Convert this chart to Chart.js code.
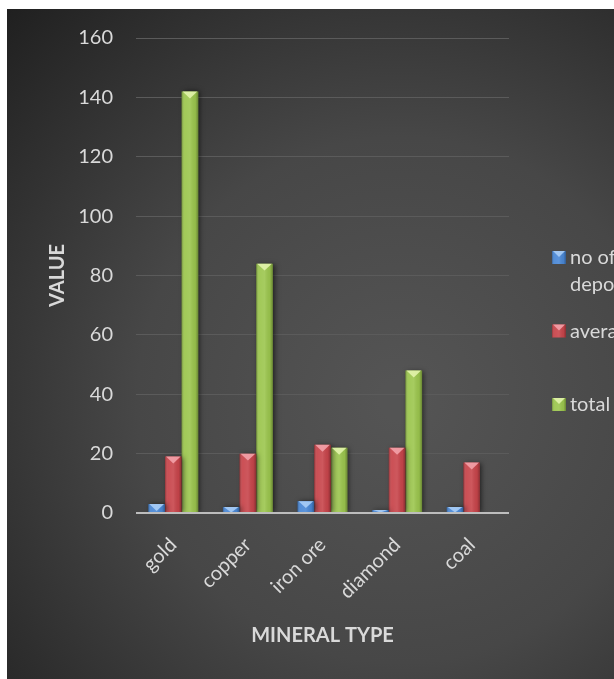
<!DOCTYPE html>
<html><head><meta charset="utf-8">
<script src="https://cdn.jsdelivr.net/npm/chart.js@4"></script>
<style>html,body{margin:0;padding:0;background:#fff;overflow:hidden}</style>
</head><body><canvas id="c" width="614" height="679" style="display:block;width:614px;height:679px"></canvas>
<script>
const categories = ["gold", "copper", "iron ore", "diamond", "coal"];
const seriesNames = ["no of deposits", "average size", "total value"];
const deposits = [3, 2, 4, 1, 2];
const averages = [19, 20, 23, 22, 17];
const totals = [142, 84, 22, 48, 0];
const yTickValues = [0, 20, 40, 60, 80, 100, 120, 140, 160];
const seriesColors = ["#4a88d6", "#c8454b", "#9cc64e"];
const seriesLight = ["#a8cdf6", "#f3a2aa", "#e2f3ac"];

const FONT = "Lato, 'Open Sans', sans-serif";
const TXT = "#d9d9d9";

const bgPlugin = {
  id: "bg",
  beforeDraw(chart) {
    const ctx = chart.ctx;
    ctx.save();
    ctx.fillStyle = "#ffffff";
    ctx.fillRect(0, 0, chart.width, chart.height);
    const g = ctx.createRadialGradient(400, 400, 20, 400, 400, 560);
    g.addColorStop(0, "#545454");
    g.addColorStop(0.45, "#474747");
    g.addColorStop(1, "#1f1f1f");
    ctx.fillStyle = g;
    ctx.fillRect(7, 9, chart.width - 7, chart.height - 9);
    ctx.restore();
  }
};

function bevel(ctx, left, top, w, h, light) {
  const lg = ctx.createLinearGradient(left, 0, left + w, 0);
  lg.addColorStop(0, "rgba(0,0,0,0.28)");
  lg.addColorStop(0.18, "rgba(255,255,255,0.06)");
  lg.addColorStop(0.5, "rgba(255,255,255,0.10)");
  lg.addColorStop(0.82, "rgba(0,0,0,0.05)");
  lg.addColorStop(1, "rgba(0,0,0,0.32)");
  ctx.fillStyle = lg;
  ctx.fillRect(left, top, w, h);
  const th = Math.min(w * 0.42, h);
  ctx.beginPath();
  ctx.moveTo(left + 1, top);
  ctx.lineTo(left + w - 1, top);
  ctx.lineTo(left + w / 2, top + th);
  ctx.closePath();
  ctx.fillStyle = light;
  ctx.globalAlpha = 0.9;
  ctx.fill();
  ctx.globalAlpha = 1;
}

const barFx = {
  id: "barfx",
  beforeDatasetsDraw(chart) {
    const ctx = chart.ctx;
    ctx.save();
    ctx.shadowColor = "rgba(0,0,0,0.55)";
    ctx.shadowBlur = 5;
    ctx.shadowOffsetX = 2;
    ctx.shadowOffsetY = 0;
  },
  afterDatasetsDraw(chart) {
    const ctx = chart.ctx;
    ctx.restore();
    ctx.save();
    chart.data.datasets.forEach((ds, di) => {
      const meta = chart.getDatasetMeta(di);
      meta.data.forEach(el => {
        const p = el.getProps(["x", "y", "base", "width"], true);
        const top = Math.min(p.y, p.base);
        const h = Math.abs(p.base - p.y);
        if (h < 0.5) return;
        bevel(ctx, p.x - p.width / 2, top, p.width, h, seriesLight[di]);
      });
    });
    const y0 = chart.scales.y.getPixelForValue(0);
    ctx.strokeStyle = "#bdbdbd";
    ctx.lineWidth = 2;
    ctx.beginPath();
    ctx.moveTo(chart.chartArea.left, y0);
    ctx.lineTo(chart.chartArea.right, y0);
    ctx.stroke();
    ctx.restore();
  }
};

const legendFx = {
  id: "legendfx",
  afterDraw(chart) {
    const ctx = chart.ctx;
    ctx.save();
    ctx.font = "20px " + FONT;
    ctx.textBaseline = "middle";
    ctx.fillStyle = TXT;
    const x0 = chart.chartArea.right + 43;
    const tx = x0 + 18;
    const maxW = 112;
    chart.data.datasets.forEach((ds, i) => {
      const cy = 258 + i * 73.5;
      const words = ds.label.split(" ");
      const lines = [];
      let cur = "";
      words.forEach(w => {
        const t = cur ? cur + " " + w : w;
        if (ctx.measureText(t).width > maxW && cur) { lines.push(cur); cur = w; }
        else cur = t;
      });
      lines.push(cur);
      ctx.fillStyle = seriesColors[i];
      ctx.fillRect(x0, cy - 7, 14, 13);
      bevel(ctx, x0, cy - 7, 14, 13, seriesLight[i]);
      ctx.fillStyle = TXT;
      lines.forEach((ln, k) => ctx.fillText(ln, tx, cy + k * 27));
    });
    ctx.restore();
  }
};

new Chart(document.getElementById("c"), {
  type: "bar",
  data: {
    labels: categories,
    datasets: [
      { label: seriesNames[0], data: deposits, backgroundColor: seriesColors[0] },
      { label: seriesNames[1], data: averages, backgroundColor: seriesColors[1] },
      { label: seriesNames[2], data: totals, backgroundColor: seriesColors[2] }
    ]
  },
  options: {
    responsive: false,
    animation: false,
    devicePixelRatio: 1,
    layout: { padding: { left: 7, top: 38, right: 105, bottom: 0 } },
    datasets: { bar: { categoryPercentage: 0.67, barPercentage: 1.0, borderWidth: 0 } },
    plugins: { legend: { display: false }, tooltip: { enabled: false } },
    scales: {
      x: {
        grid: { display: false, drawTicks: false },
        border: { display: false },
        ticks: {
          color: TXT, font: { family: FONT, size: 20 },
          minRotation: 45, maxRotation: 45, autoSkip: false, padding: 20
        },
        title: {
          display: true, text: "MINERAL TYPE", color: TXT,
          font: { family: FONT, size: 20, weight: "bold" },
          padding: { top: 0, bottom: 31 }
        },
        afterFit(s) { s.height = 166; }
      },
      y: {
        min: 0, max: 160,
        afterBuildTicks(s) { s.ticks = yTickValues.map(v => ({ value: v })); },
        grid: {
          drawTicks: false,
          color: c => (c.tick && c.tick.value === 0) ? "rgba(0,0,0,0)" : "#5b5b5b",
          lineWidth: 1
        },
        border: { display: false },
        ticks: { color: TXT, font: { family: FONT, size: 20 }, padding: 23 },
        title: {
          display: true, text: "VALUE", color: TXT,
          font: { family: FONT, size: 20, weight: "bold" },
          padding: { top: 39, bottom: 0 }
        },
        afterFit(s) { s.width = 129; }
      }
    }
  },
  plugins: [bgPlugin, barFx, legendFx]
});
</script>
</body></html>
